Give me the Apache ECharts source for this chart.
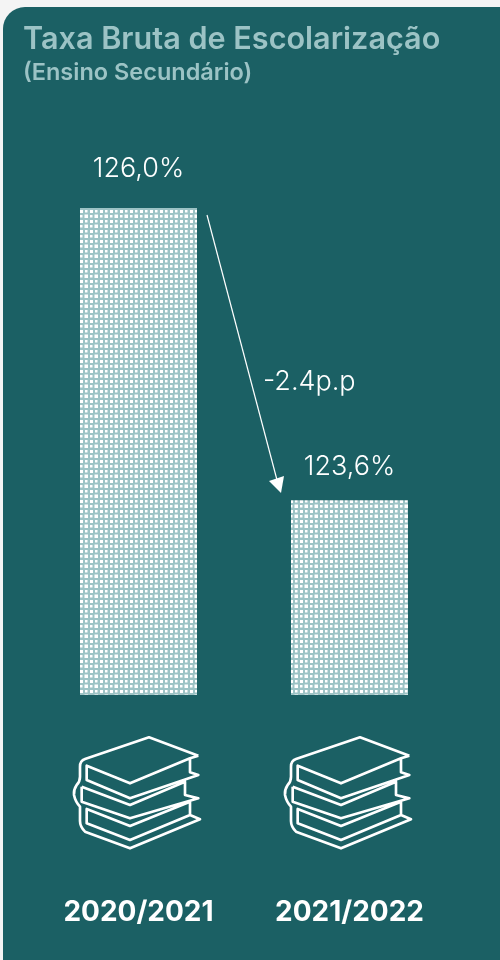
<!DOCTYPE html>
<html><head><meta charset="utf-8">
<style>html,body{margin:0;padding:0;background:#f4f4f4;overflow:hidden}#c{width:500px;height:960px}</style>
<script src="https://cdn.jsdelivr.net/npm/echarts@6/dist/echarts.min.js"></script>
</head><body><div id="c"></div>
<script>
const categories = ['2020/2021','2021/2022'];
const values = [126.0,123.6];
const valueLabels = ['126,0%','123,6%'];
const titleText = 'Taxa Bruta de Escolarização';
const subtitleText = '(Ensino Secundário)';
const changeText = '-2.4p.p';

const TEAL='#1b6064', PALE='#9cc3c5';
function makePattern(){
  const s=2.5, c=document.createElement('canvas'); c.width=c.height=10;
  const x=c.getContext('2d');
  x.fillStyle=PALE; x.fillRect(0,0,10,10);
  x.fillStyle='#ffffff';
  [[0,0],[2,2]].forEach(([a,b])=>x.fillRect(a*s-0.5,b*s-0.5,s+1,s+1));
  [[2,0],[0,2]].forEach(([a,b])=>x.fillRect(a*s,b*s,s,s));
  return c;
}
const bookPath=[
 'M385 62 L237 7 L45 72 Q30 77 30 95 L30 125 Q30 140 20 150 Q10 165 12 180 Q16 200 30 215 L30 258 Q30 275 45 290 L180 340 L390 253 L360 240 L360 200 L180 273 L50 222 L50 265 L180 315 L360 240',
 'M385 62 L360 70 L180 145 L50 92 L50 135 L180 190 L385 120 L360 112 L360 70',
 'M35 155 L35 200 L180 250 L385 190 L345 180 L345 140 L180 210 L35 155'
].join(' ');
const chart=echarts.init(document.getElementById('c'),null,{renderer:'canvas'});
chart.setOption({
  animation:false,
  backgroundColor:'#f4f4f4',
  grid:{left:33,right:45,top:208,bottom:265},
  xAxis:{type:'category',data:categories,axisLine:{show:false},axisTick:{show:false},
    axisLabel:{color:'#fff',fontFamily:'Inter',fontWeight:700,fontSize:28,margin:204,interval:0}},
  yAxis:{type:'value',min:122,max:126,show:false},
  graphic:[
    {type:'rect',z:-1,shape:{x:3,y:7,width:520,height:975,r:22},style:{fill:TEAL}},
    {type:'text',left:23,top:24,style:{text:titleText,fill:PALE,font:'600 30.6px Inter'}},
    {type:'text',left:23,top:61,style:{text:subtitleText,fill:PALE,font:'600 23.5px Inter'}},
    {type:'text',left:263,top:368,style:{text:changeText,fill:'#fff',font:'300 27px Inter'}},
    {type:'line',shape:{x1:207,y1:215,x2:277,y2:480},style:{stroke:'#fff',lineWidth:1.2}},
    {type:'polygon',shape:{points:[[281,493],[269,481],[284,476]]},style:{fill:'#fff'}}
  ],
  series:[
    {type:'bar',data:[
       {value:values[0],label:{distance:26}},
       {value:values[1],label:{distance:20}}],
     barWidth:117,
     itemStyle:{color:{image:makePattern(),repeat:'repeat'}},
     label:{show:true,position:'top',color:'#fff',fontFamily:'Inter',fontWeight:300,fontSize:27,
       formatter:p=>valueLabels[p.dataIndex]}},
    {type:'custom',data:categories.map((c,i)=>[i,122]),silent:true,z:3,
     encode:{x:0,y:1},
     renderItem:(params,api)=>{
       const pt=api.coord([api.value(0),122]);
       return {type:'path',x:pt[0]-68.5,y:pt[1]+40,scaleX:1/3,scaleY:1/3,
         shape:{pathData:bookPath,layout:'none'},
         style:{fill:null,stroke:'#fff',lineWidth:8,lineJoin:'round'}};
     }}
  ]
});
</script></body></html>
